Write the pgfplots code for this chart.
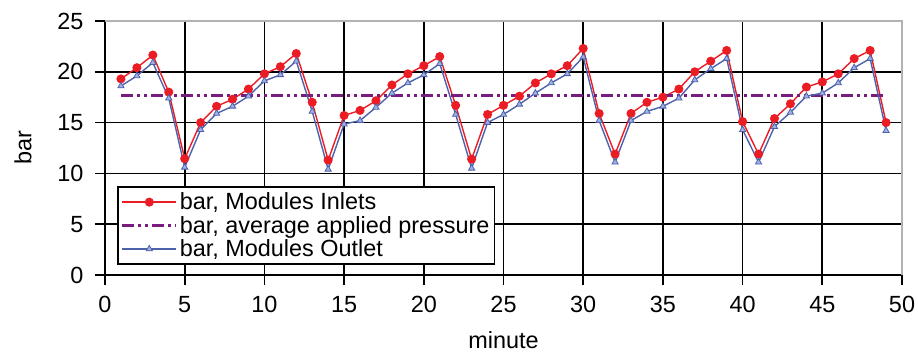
\documentclass[border=0pt]{standalone}
\usepackage{fontspec}
\setmainfont{Liberation Sans}
\usepackage{pgfplots}
\pgfplotsset{compat=1.18}
\definecolor{cred}{RGB}{236,28,36}
\definecolor{cblue}{RGB}{78,98,172}
\definecolor{clblue}{RGB}{160,178,225}
\definecolor{cpurple}{RGB}{120,28,128}
\begin{document}
\begin{tikzpicture}
\path[use as bounding box] (-105bp,-79bp) rectangle (813bp,21bp+254bp);
\begin{axis}[
  at={(0,0)}, anchor=south west,
  scale only axis, width=797bp, height=254bp,
  xmin=0, xmax=50, ymin=0, ymax=25,
  xtick={0,5,...,50}, ytick={0,5,...,25},
  grid=major,
  major grid style={black, line width=1.7bp},
  tick align=outside,
  major tick length=10bp,
  every tick/.style={black, line width=1.7bp},
  axis line style={black, line width=1.7bp},
  tick pos=left,
  clip=false,
  font=\fontsize{23.5}{26}\selectfont,
  /pgf/number format/assume math mode=true,
  xticklabel style={yshift=-8bp},
  yticklabel style={xshift=-8bp},
  xlabel={minute}, ylabel={bar},
  xlabel style={at={(axis description cs:0.5,-0.256)}, anchor=center},
  ylabel style={at={(axis description cs:-0.103,0.5)}, anchor=center},
  legend style={at={(axis description cs:0.015,0.039)}, anchor=south west,
    draw=black, line width=1.7bp, fill=white, font=\fontsize{23.5}{24}\selectfont,
    inner xsep=3bp, inner ysep=4bp, row sep=1bp, cells={anchor=west}},
  legend image code/.code={\draw[mark repeat=2,mark phase=2,#1] plot coordinates {(0bp,0bp) (27bp,0bp) (54bp,0bp)};},
]
\addplot[cred, line width=1.4bp, mark=*, mark size=3.8bp, mark options={fill=cred, draw=cred}] coordinates {
(1,19.3) (2,20.4) (3,21.65) (4,18.0) (5,11.45) (6,15.0) (7,16.6) (8,17.3) (9,18.3) (10,19.8)
(11,20.5) (12,21.8) (13,17.0) (14,11.3) (15,15.7) (16,16.2) (17,17.15) (18,18.7) (19,19.8) (20,20.6)
(21,21.5) (22,16.7) (23,11.4) (24,15.8) (25,16.7) (26,17.6) (27,18.9) (28,19.8) (29,20.6) (30,22.3)
(31,15.9) (32,11.9) (33,15.9) (34,17.0) (35,17.5) (36,18.3) (37,20.0) (38,21.05) (39,22.1) (40,15.1)
(41,11.9) (42,15.4) (43,16.85) (44,18.5) (45,19.0) (46,19.8) (47,21.3) (48,22.1) (49,15.0)};
\addlegendentry{bar, Modules Inlets}
\addplot[cpurple, line width=3bp, dash pattern=on 12bp off 4bp on 3bp off 4bp on 3bp off 4bp] coordinates {(1,17.7) (49,17.7)};
\addlegendentry{bar, average applied pressure}
\addplot[cblue, line width=1.4bp, mark=triangle*, mark size=3.6bp, mark options={fill=clblue, draw=cblue, line width=0.8bp}] coordinates {
(1,18.6) (2,19.6) (3,20.9) (4,17.4) (5,10.6) (6,14.3) (7,15.9) (8,16.6) (9,17.6) (10,19.1)
(11,19.7) (12,21.05) (13,16.1) (14,10.4) (15,14.85) (16,15.2) (17,16.5) (18,17.9) (19,18.9) (20,19.7)
(21,20.8) (22,15.8) (23,10.5) (24,15.0) (25,15.8) (26,16.8) (27,17.9) (28,18.9) (29,19.8) (30,21.45)
(31,15.2) (32,11.1) (33,15.2) (34,16.1) (35,16.6) (36,17.4) (37,19.2) (38,20.3) (39,21.3) (40,14.3)
(41,11.1) (42,14.6) (43,16.0) (44,17.6) (45,17.9) (46,18.9) (47,20.4) (48,21.3) (49,14.2)};
\addlegendentry{bar, Modules Outlet}
\draw[gray!60, line width=1.7bp] (rel axis cs:0,1) -- (rel axis cs:1,1) -- (rel axis cs:1,0);
\end{axis}
\end{tikzpicture}
\end{document}
